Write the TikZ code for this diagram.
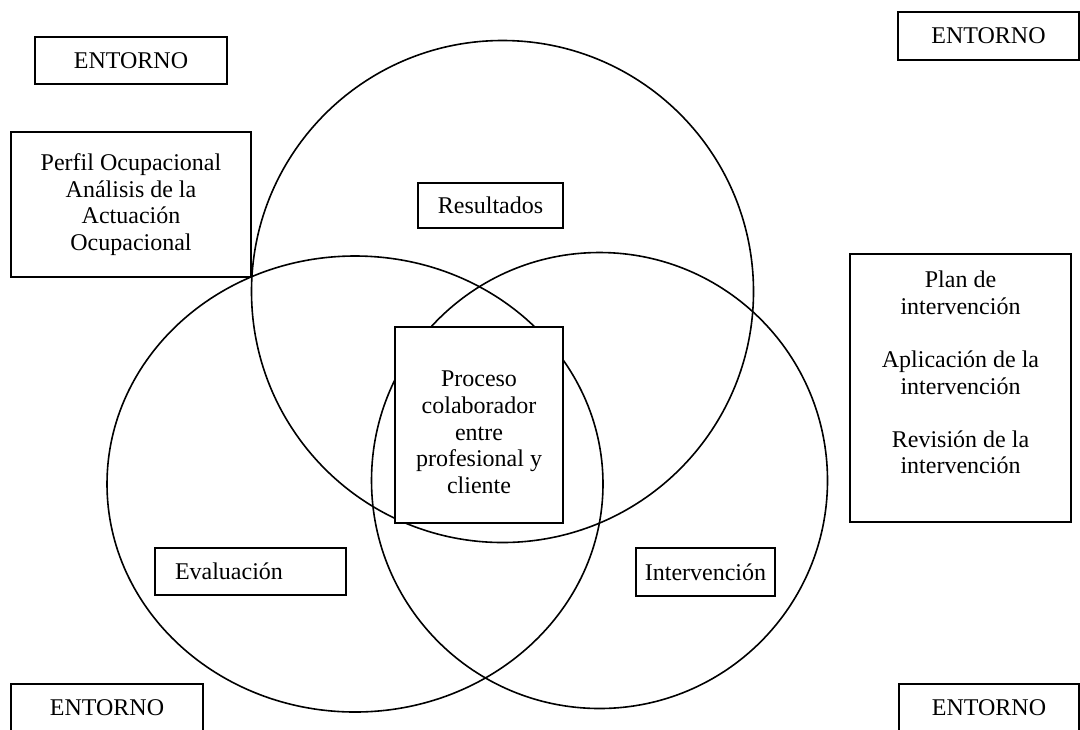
\documentclass[tikz,border=0pt]{standalone}
\usepackage{fontspec}
\setmainfont{Liberation Serif}
\begin{document}
\begin{tikzpicture}[
        x=0.5pt, y=-0.5pt,
        box/.style={rectangle, draw, line width=0.9pt, fill=white, align=center, inner sep=2pt, font=\fontsize{12}{13.3}\selectfont},
        ring/.style={draw, line width=0.8pt}
    ]
        \useasboundingbox (0,0) rectangle (1080,729);

        % Three overlapping circles
        \draw[ring] (502.5,291.5) circle [radius=251];
        \draw[ring] (355,484) ellipse [x radius=248, y radius=228];
        \draw[ring] (599.5,480.5) circle [radius=228];

        % Environment in the four corners
        \node[box, minimum width=96pt, minimum height=23.5pt] (envNW) at (131,60.5) {ENTORNO};
        \node[box, minimum width=90.5pt, minimum height=24pt] (envNE) at (988.5,36) {ENTORNO};
        \node[box, minimum width=96pt, minimum height=23.5pt] (envSW) at (107,707.5) {ENTORNO};
        \node[box, minimum width=90pt, minimum height=23.5pt] (envSE) at (989,707.5) {ENTORNO};

        % Side boxes
        \node[box, minimum width=120pt, minimum height=72.5pt] (perfil) at (131,204.5) {Perfil Ocupacional\\Análisis de la\\Actuación\\Ocupacional};
        \node[box, anchor=north, minimum width=110.5pt, inner ysep=4pt, text height=106pt, text depth=20pt] (plan) at (960.5,253) {Plan de\\intervención\\[13.3pt]Aplicación de la\\intervención\\[13.3pt]Revisión de la\\intervención};

        % Labels of the circles
        \node[box, minimum width=72.5pt, minimum height=22.5pt] (resultados) at (490.5,205.5) {Resultados};
        \node[box, text width=75.5pt, inner xsep=10pt, align=left, minimum height=23.5pt] (evaluacion) at (250.5,571.5) {Evaluación};
        \node[box, minimum width=69.5pt, minimum height=24pt] (intervencion) at (705.5,572) {Intervención};

        % Centre
        \node[box, anchor=north, minimum width=84pt, text height=81.2pt, text depth=12.8pt] (proceso) at (479,326) {Proceso\\colaborador\\entre\\profesional y\\cliente};

    \end{tikzpicture}
\end{document}
